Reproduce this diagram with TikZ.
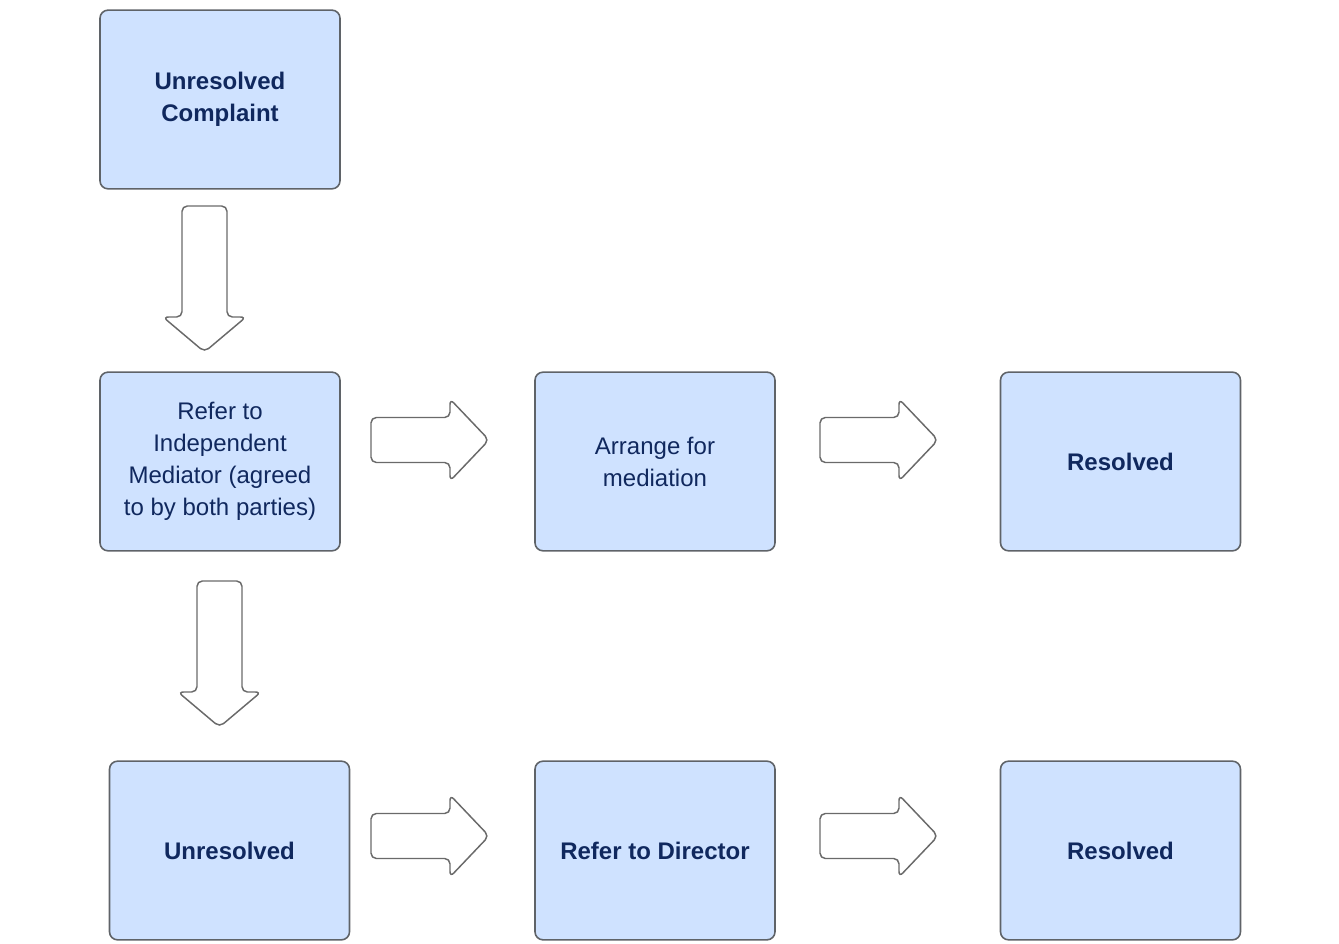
\documentclass[tikz,border=0pt]{standalone}
\usepackage{fontspec}
\setmainfont{Liberation Sans}
\definecolor{boxfill}{HTML}{CFE2FF}
\definecolor{boxline}{HTML}{5F6368}
\definecolor{navy}{HTML}{10285E}
\definecolor{arrline}{HTML}{6A6A6A}
\begin{document}
\begin{tikzpicture}[x=0.75pt,y=-0.75pt,
  stepbox/.style={draw=boxline,fill=boxfill,line width=1.2pt,rounded corners=6pt,
    minimum width=180pt,minimum height=134pt,inner sep=0pt,align=center,
    text=navy,font=\fontsize{18pt}{24pt}\selectfont},
  boldtxt/.style={font=\fontsize{18pt}{24pt}\selectfont\bfseries},
  blockarrow/.style={draw=arrline,fill=white,line width=1.1pt,rounded corners=4pt},
  darrow/.pic={\draw[blockarrow] (-22.5,0) -- (22.5,0) -- (22.5,111) -- (41.5,111) -- (0,146) -- (-41.5,111) -- (-22.5,111) -- cycle;},
  rarrow/.pic={\draw[blockarrow] (0,-22.5) -- (79,-22.5) -- (79,-41) -- (118,0) -- (79,41) -- (79,22.5) -- (0,22.5) -- cycle;}
]
\useasboundingbox (0,0) rectangle (1339,944);
% boxes
\node[stepbox,boldtxt] (b1) at (220,99.5) {Unresolved\\Complaint};
\node[stepbox] (b2) at (220,461.5) {Refer to\\Independent\\Mediator (agreed\\to by both parties)};
\node[stepbox] (b3) at (655,461.5) {Arrange for\\mediation};
\node[stepbox,boldtxt] (b4) at (1120.5,461.5) {Resolved};
\node[stepbox,boldtxt] (b5) at (229.5,850.5) {Unresolved};
\node[stepbox,boldtxt] (b6) at (655,850.5) {Refer to Director};
\node[stepbox,boldtxt] (b7) at (1120.5,850.5) {Resolved};
% block arrows
\pic at (204.5,206) {darrow};
\pic at (219.5,581) {darrow};
\pic at (371,440) {rarrow};
\pic at (820,440) {rarrow};
\pic at (371,836) {rarrow};
\pic at (820,836) {rarrow};
\end{tikzpicture}
\end{document}
